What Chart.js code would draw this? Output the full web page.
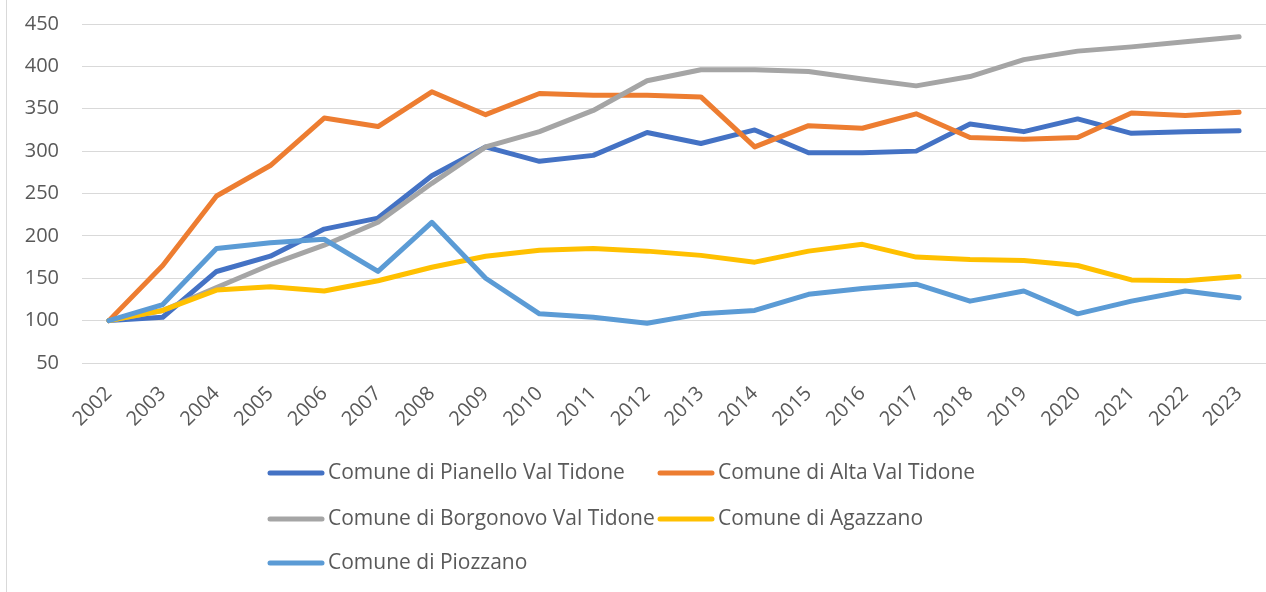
<!DOCTYPE html>
<html lang="it">
<head>
  <meta charset="UTF-8">
  <title>Comuni Val Tidone</title>
  <script src="https://cdn.jsdelivr.net/npm/chart.js"></script>
  <style>
    html, body { margin: 0; padding: 0; background: #fff; }
    #wrap { position: relative; width: 1266px; height: 592px; }
    #edge { position: absolute; left: 6px; top: 0; width: 1px; height: 592px; background: #d9d9d9; }
  </style>
</head>
<body>
  <div id="wrap">
    <canvas id="chart" width="1266" height="592"></canvas>
    <div id="edge"></div>
  </div>

  <script>
    // anni
    const years = ['2002', '2003', '2004', '2005', '2006', '2007', '2008', '2009', '2010', '2011', '2012',
                   '2013', '2014', '2015', '2016', '2017', '2018', '2019', '2020', '2021', '2022', '2023'];

    // valori (2002 = 100)
    const pianello  = [100, 104, 158, 176, 208, 221, 271, 305, 288, 295, 322, 309, 325, 298, 298, 300, 332, 323, 338, 321, 323, 324];
    const altaVal   = [100, 165, 247, 283, 339, 329, 370, 343, 368, 366, 366, 364, 305, 330, 327, 344, 316, 314, 316, 345, 342, 346];
    const borgonovo = [100, 112, 139, 166, 189, 216, 262, 305, 323, 348, 383, 396, 396, 394, 385, 377, 388, 408, 418, 423, 429, 435];
    const agazzano  = [100, 112, 136, 140, 135, 147, 163, 176, 183, 185, 182, 177, 169, 182, 190, 175, 172, 171, 165, 148, 147, 152];
    const piozzano  = [100, 119, 185, 192, 196, 158, 216, 150, 108, 104, 97, 108, 112, 131, 138, 143, 123, 135, 108, 123, 135, 127];

    const names = ['Comune di Pianello Val Tidone', 'Comune di Alta Val Tidone', 'Comune di Borgonovo Val Tidone',
                   'Comune di Agazzano', 'Comune di Piozzano'];
    const colors = ['#4472C4', '#ED7D31', '#A5A5A5', '#FFC000', '#5B9BD5'];
    const series = [pianello, altaVal, borgonovo, agazzano, piozzano];

    const textColor = '#595959';
    const fontFamily = '"Open Sans", sans-serif';

    // legend like excel: two columns grid under the axis
    const gridLegend = {
      id: 'gridLegend',
      afterDraw(chart) {
        const ctx = chart.ctx;
        const colX = [268, 658];
        const rowY = [473, 519, 563];
        ctx.save();
        ctx.font = '21px ' + fontFamily;
        ctx.textBaseline = 'middle';
        ctx.fillStyle = textColor;
        chart.data.datasets.forEach((ds, i) => {
          const x = colX[i % 2];
          const y = rowY[Math.floor(i / 2)];
          ctx.strokeStyle = ds.borderColor;
          ctx.lineWidth = 5;
          ctx.lineCap = 'round';
          ctx.beginPath();
          ctx.moveTo(x + 2, y);
          ctx.lineTo(x + 54, y);
          ctx.stroke();
          ctx.fillText(ds.label, x + 60, y);
        });
        ctx.restore();
      }
    };

    const datasets = series.map((data, i) => ({
      label: names[i],
      data: data,
      borderColor: colors[i],
      backgroundColor: colors[i],
      borderWidth: 5,
      pointRadius: 0,
      tension: 0,
      borderCapStyle: 'round',
      borderJoinStyle: 'round',
      order: 5 - i
    }));

    new Chart(document.getElementById('chart'), {
      type: 'line',
      data: { labels: years, datasets: datasets },
      options: {
        responsive: false,
        animation: false,
        layout: { padding: { top: 24, right: 0, left: 0, bottom: 0 } },
        plugins: {
          legend: { display: false },
          tooltip: { enabled: false }
        },
        scales: {
          x: {
            offset: true,
            // invisible tick marks just to push the labels down
            grid: { drawOnChartArea: false, drawTicks: true, tickLength: 18, tickColor: 'transparent' },
            border: { display: false },
            ticks: {
              color: textColor,
              font: { family: fontFamily, size: 20 },
              minRotation: 45,
              maxRotation: 45,
              autoSkip: false,
              padding: 1
            },
            afterFit(scale) { scale.height = 229; }
          },
          y: {
            min: 50,
            max: 450,
            grid: { color: '#d9d9d9', lineWidth: 1, drawTicks: true, tickLength: 21, tickColor: 'transparent' },
            border: { display: false },
            ticks: {
              stepSize: 50,
              color: textColor,
              font: { family: fontFamily, size: 20 },
              padding: 2
            },
            afterFit(scale) { scale.width = 82; }
          }
        }
      },
      plugins: [gridLegend]
    });
  </script>
</body>
</html>
